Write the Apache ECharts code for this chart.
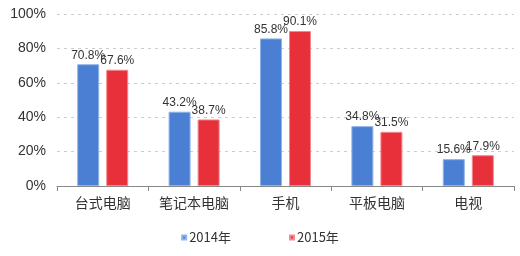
<!DOCTYPE html>
<html><head><meta charset="utf-8">
<script src="https://cdn.jsdelivr.net/npm/echarts@6/dist/echarts.min.js"></script>
<style>html,body{margin:0;padding:0;background:#fff}#c{width:520px;height:256px}</style>
</head><body><div id="c"></div>
<script>
const categories = ['台式电脑','笔记本电脑','手机','平板电脑','电视'];
const series2014 = [70.8, 43.2, 85.8, 34.8, 15.6];
const series2015 = [67.6, 38.7, 90.1, 31.5, 17.9];
const seriesNames = ['2014年','2015年'];
const yTicks = [0,20,40,60,80,100];

const chart = echarts.init(document.getElementById('c'));
const font = "'Noto Sans CJK SC', 'Liberation Sans', sans-serif";
const numFont = "'Liberation Sans', Arial, sans-serif";
const lbl = {show:true, position:'top', distance:3, color:'#333', fontSize:12, fontFamily:numFont, formatter: p => p.value.toFixed(1) + '%'};
chart.setOption({
  animation:false,
  grid:{left:57, right:6, top:14, bottom:70, containLabel:false},
  legend:{bottom:7, left:'center', itemWidth:4, itemHeight:4, itemGap:58, icon:'rect',
    textStyle:{color:'#333', fontSize:13, fontFamily:font, padding:[0,0,0,-2]}, data:seriesNames},
  xAxis:{type:'category', data:categories,
    axisLine:{lineStyle:{color:'#888'}}, axisTick:{show:true, alignWithLabel:false, lineStyle:{color:'#888'}},
    axisLabel:{color:'#333', fontSize:14, fontFamily:font, margin:10}},
  yAxis:{type:'value', min:0, max:100, interval:20,
    axisLabel:{color:'#333', fontSize:14, fontFamily:numFont, formatter: v => v + '%', margin:11},
    axisLine:{show:false}, axisTick:{show:false},
    splitLine:{lineStyle:{color:'#ccc', type:[3,4]}}},
  series:[
    {name:seriesNames[0], type:'bar', data:series2014, barWidth:22, barGap:'32%', barCategoryGap:'44%',
     itemStyle:{color:'#4a7fd4', borderColor:'#8fb3e8', borderWidth:1}, label:lbl},
    {name:seriesNames[1], type:'bar', data:series2015, barWidth:22,
     itemStyle:{color:'#e8303a', borderColor:'#f08a8f', borderWidth:1}, label:lbl}
  ]
});
</script></body></html>
